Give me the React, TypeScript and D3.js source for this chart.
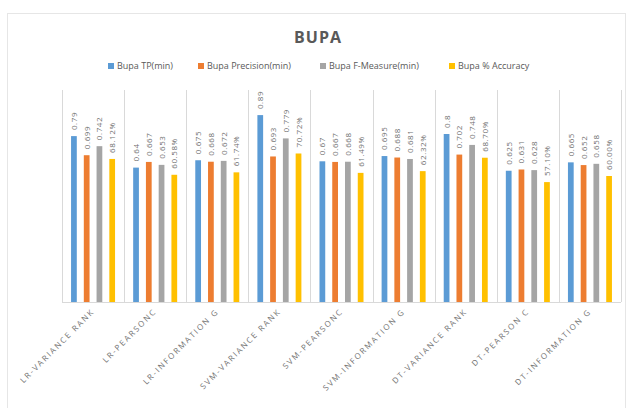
import React from "react";
import * as d3 from "d3";

const categories = [
  "LR-VARIANCE RANK",
  "LR-PEARSONC",
  "LR-INFORMATION G",
  "SVM-VARIANCE RANK",
  "SVM-PEARSONC",
  "SVM-INFORMATION G",
  "DT-VARIANCE RANK",
  "DT-PEARSON C",
  "DT-INFORMATION G",
];
const seriesNames = ["Bupa TP(min)", "Bupa Precision(min)", "Bupa F-Measure(min)", "Bupa % Accuracy"];
const tpValues = [0.79, 0.64, 0.675, 0.89, 0.67, 0.695, 0.8, 0.625, 0.665];
const precisionValues = [0.699, 0.667, 0.668, 0.693, 0.667, 0.688, 0.702, 0.631, 0.652];
const fMeasureValues = [0.742, 0.653, 0.672, 0.779, 0.668, 0.681, 0.748, 0.628, 0.658];
const accuracyValues = [68.12, 60.58, 61.74, 70.72, 61.49, 62.32, 68.7, 57.1, 60.0];
const colors = ["#5B9BD5", "#ED7D31", "#A5A5A5", "#FFC000"];

const W = 634;
const H = 408;
const left = 62;
const right = 621;
const top = 92;
const bottom = 302;

export default function App() {
  const x = d3.scaleBand<string>().domain(categories).range([left, right]).padding(0);
  const y = d3.scaleLinear().domain([0, 1]).range([bottom, top]);
  const inner = d3
    .scaleBand<number>()
    .domain([0, 1, 2, 3])
    .range([0, 44])
    .paddingInner(0.55);
  const groupOffset = (x.bandwidth() - 44) / 2;

  const series = [
    tpValues.map((v) => ({ v, label: String(v) })),
    precisionValues.map((v) => ({ v, label: String(v) })),
    fMeasureValues.map((v) => ({ v, label: String(v) })),
    accuracyValues.map((v) => ({ v: v / 100, label: v.toFixed(2) + "%" })),
  ];

  const legendX = [108, 198, 320, 449];
  const textColor = "#595959";

  return (
    <svg
      width={W}
      height={H}
      style={{ position: "absolute", left: 0, top: 0, fontFamily: "'Open Sans', sans-serif" }}
    >
      <rect x={0} y={0} width={W} height={H} fill="#fff" />
      <rect x={7.5} y={13.5} width={618} height={H} fill="#fff" stroke="#e6e6e6" />
      <text
        x={318}
        y={43}
        textAnchor="middle"
        fontSize={16}
        fontWeight="bold"
        fill={textColor}
        letterSpacing={1}
      >
        BUPA
      </text>
      {seriesNames.map((n, i) => (
        <g key={n}>
          <rect x={legendX[i]} y={63} width={6} height={6} fill={colors[i]} />
          <text x={legendX[i] + 9} y={69} fontSize={9} fill={textColor}>
            {n}
          </text>
        </g>
      ))}
      {d3.range(categories.length + 1).map((i) => {
        const xx = Math.round(left + i * x.step()) + 0.5;
        return <line key={i} x1={xx} x2={xx} y1={top - 2} y2={bottom} stroke="#d9d9d9" strokeWidth={1} />;
      })}
      <line x1={left} x2={right} y1={bottom + 0.5} y2={bottom + 0.5} stroke="#d9d9d9" />
      {categories.map((c, ci) => (
        <g key={c}>
          {series.map((s, si) => {
            const bx = (x(c) as number) + groupOffset + (inner(si) as number);
            const by = y(s[ci].v);
            const bw = inner.bandwidth();
            return (
              <g key={si}>
                <rect x={bx} y={by} width={bw} height={bottom - by} fill={colors[si]} />
                <text
                  transform={`translate(${bx + bw / 2 + 3},${by - 6}) rotate(-90)`}
                  fontSize={8}
                  fill="#6f6f6f"
                  letterSpacing={0.6}
                >
                  {s[ci].label}
                </text>
              </g>
            );
          })}
          <text
            transform={`translate(${(x(c) as number) + x.bandwidth() / 2 + 2},${bottom + 10}) rotate(-45)`}
            textAnchor="end"
            fontSize={8}
            fill="#737373"
            letterSpacing={1.8}
          >
            {c}
          </text>
        </g>
      ))}
    </svg>
  );
}
